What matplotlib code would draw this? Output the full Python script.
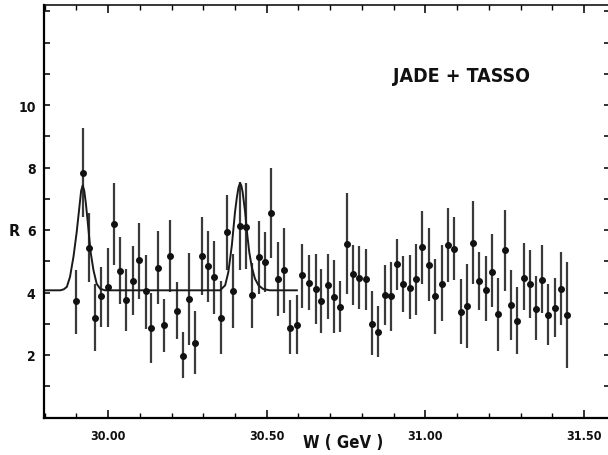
import matplotlib
matplotlib.use("Agg")
import matplotlib.pyplot as plt
from matplotlib.ticker import MultipleLocator, FixedLocator, FixedFormatter
import numpy as np

plt.rcParams['font.family'] = ['DejaVu Sans Condensed', 'DejaVu Sans']
plt.rcParams['font.stretch'] = 'condensed'
plt.rcParams['font.weight'] = 'bold'

# measured points: energy W (GeV), R and the ends of the error bars
W = [29.898, 29.920, 29.939, 29.959, 29.979, 29.999, 30.019, 30.038, 30.058, 30.078,
     30.098, 30.118, 30.135, 30.157, 30.176, 30.196, 30.216, 30.235, 30.255, 30.275,
     30.295, 30.315, 30.335, 30.355, 30.374, 30.395, 30.416, 30.435, 30.455, 30.475,
     30.495, 30.514, 30.535, 30.554, 30.574, 30.595, 30.612, 30.634, 30.654, 30.671,
     30.692, 30.712, 30.732, 30.752, 30.771, 30.791, 30.812, 30.832, 30.852, 30.872,
     30.893, 30.911, 30.930, 30.951, 30.971, 30.991, 31.011, 31.031, 31.051, 31.071,
     31.091, 31.111, 31.131, 31.151, 31.170, 31.190, 31.209, 31.230, 31.251, 31.270,
     31.290, 31.310, 31.330, 31.348, 31.368, 31.387, 31.408, 31.427, 31.447]
R = [3.72, 7.83, 5.43, 3.19, 3.88, 4.17, 6.18, 4.69, 3.75, 4.37,
     5.03, 4.04, 2.87, 4.78, 2.95, 5.17, 3.40, 1.97, 3.78, 2.39,
     5.17, 4.85, 4.49, 3.18, 5.93, 4.05, 6.14, 6.09, 3.91, 5.13,
     4.97, 6.55, 4.44, 4.71, 2.87, 2.95, 4.55, 4.31, 4.12, 3.72,
     4.23, 3.86, 3.54, 5.56, 4.58, 4.46, 4.44, 3.00, 2.74, 3.93,
     3.89, 4.91, 4.28, 4.15, 4.44, 5.45, 4.89, 3.88, 4.28, 5.53,
     5.40, 3.38, 3.56, 5.59, 4.37, 4.09, 4.67, 3.30, 5.35, 3.61,
     3.09, 4.46, 4.28, 3.48, 4.41, 3.29, 3.51, 4.12, 3.27]
R_hi = [4.73, 9.25, 6.54, 4.28, 4.81, 5.42, 7.50, 5.77, 4.74, 5.49,
        6.22, 5.21, 3.99, 5.98, 3.80, 6.33, 4.33, 2.74, 5.27, 3.40,
        6.41, 5.98, 5.66, 4.36, 7.12, 5.24, 7.55, 7.51, 4.95, 6.30,
        5.95, 7.99, 5.61, 6.06, 3.75, 3.91, 5.56, 5.21, 5.24, 4.74,
        5.24, 5.03, 4.37, 7.19, 5.53, 5.50, 5.38, 4.04, 3.57, 4.89,
        4.97, 5.72, 5.17, 5.19, 5.56, 6.62, 6.07, 5.08, 5.53, 6.70,
        6.41, 4.42, 4.92, 6.94, 5.31, 5.17, 5.86, 4.47, 6.65, 4.73,
        4.17, 5.58, 5.35, 4.53, 5.53, 4.26, 4.46, 5.31, 4.97]
R_lo = [2.68, 6.41, 4.33, 2.13, 2.90, 2.90, 4.87, 3.62, 2.77, 3.27,
        3.80, 2.84, 1.76, 3.64, 2.10, 4.02, 2.50, 1.25, 2.31, 1.38,
        3.91, 3.70, 3.32, 2.04, 4.71, 2.87, 4.73, 4.76, 2.87, 3.96,
        4.02, 5.10, 3.25, 3.35, 2.04, 2.04, 3.50, 3.45, 3.00, 2.72,
        3.16, 2.72, 2.74, 3.96, 3.61, 3.46, 3.43, 1.99, 1.94, 2.95,
        2.76, 4.07, 3.38, 3.14, 3.29, 4.28, 3.72, 2.68, 3.08, 4.33,
        4.39, 2.34, 2.24, 4.28, 3.45, 3.09, 3.54, 2.13, 4.04, 2.49,
        2.04, 3.43, 3.19, 2.49, 3.35, 2.31, 2.58, 2.97, 1.59]

# fitted curve
fit_W = [29.800, 29.849, 29.860, 29.870, 29.880, 29.891, 29.901, 29.910, 29.915,
         29.920, 29.925, 29.930, 29.937, 29.945, 29.954, 29.964, 29.975, 29.990,
         30.353, 30.369, 30.379, 30.390, 30.400, 30.406, 30.411, 30.416, 30.420,
         30.424, 30.432, 30.439, 30.445, 30.453, 30.463, 30.474, 30.489, 30.510, 30.595]
fit_R = [4.07, 4.07, 4.10, 4.18, 4.50, 5.15, 5.93, 6.78, 7.25,
         7.43, 7.25, 6.85, 6.14, 5.29, 4.71, 4.28, 4.12, 4.07,
         4.07, 4.23, 4.65, 5.50, 6.57, 7.05, 7.36, 7.50, 7.42,
         7.22, 6.57, 5.82, 5.29, 4.81, 4.44, 4.23, 4.11, 4.07, 4.07]

fig = plt.figure(figsize=(6.08, 4.56), dpi=100)
ax = fig.add_axes([44 / 608, 1 - 418.5 / 456, 566 / 608, 412.5 / 456])

yerr = [np.array(R) - np.array(R_lo), np.array(R_hi) - np.array(R)]
ax.errorbar(W, R, yerr=yerr, fmt='o', color='#111111', ecolor='#3a3a3a',
            elinewidth=1.6, markersize=4.0, capsize=0)
ax.plot(fit_W, fit_R, color='#1a1a1a', lw=1.4)

ax.set_xlim(29.798, 31.582)
ax.set_ylim(0, 13.2)

# ticks
ax.xaxis.set_major_locator(FixedLocator([30.0, 30.5, 31.0, 31.5]))
ax.xaxis.set_major_formatter(FixedFormatter(['30.00', '30.50', '31.00', '31.50']))
ax.xaxis.set_minor_locator(MultipleLocator(0.1))
yt = list(range(1, 14))
ax.yaxis.set_major_locator(FixedLocator(yt))
ax.yaxis.set_major_formatter(FixedFormatter(
    [str(v) if v in (2, 4, 6, 8, 10) else '' for v in yt]))
ax.tick_params(axis='x', which='major', direction='in', length=6, width=1.2,
               top=True, labelsize=9, pad=8, colors='#111111')
ax.tick_params(axis='x', which='minor', direction='in', length=3.5, width=1.0,
               top=True)
ax.tick_params(axis='y', which='major', direction='in', length=4, width=1.2,
               right=True, labelsize=10, pad=6, colors='#111111')

for s in ['left', 'bottom']:
    ax.spines[s].set_linewidth(1.6)
ax.spines['top'].set_linewidth(1.1)

fig.text(14 / 608, 1 - 232 / 456, 'R', ha='center', va='center',
         fontsize=11.5, fontweight='bold', color='#111111')
fig.text(343 / 608, 1 - 443 / 456, 'W ( GeV )', ha='center', va='center',
         fontsize=12, fontweight='bold', color='#111111')
ax.text(0.738, 0.830, 'JADE + TASSO', transform=ax.transAxes, ha='center',
        va='center', fontsize=14, fontweight='bold', color='#111111')

fig.savefig('out.png', dpi=100)
